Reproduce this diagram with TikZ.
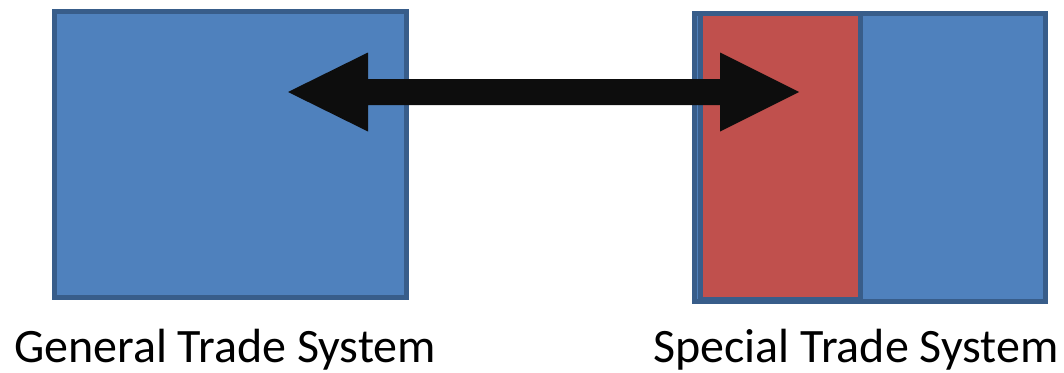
\documentclass[tikz,border=0pt]{standalone}
\usepackage{fontspec}
\setmainfont{Carlito}
\definecolor{boxblue}{HTML}{4F81BD}
\definecolor{boxedge}{HTML}{385D8A}
\definecolor{boxred}{HTML}{C0504D}
\definecolor{arrowblack}{HTML}{0D0D0D}
\begin{document}
\begin{tikzpicture}[x=1pt,y=-1pt,
  panel/.style={draw=boxedge, line width=5pt, fill=boxblue},
  redpanel/.style={draw=boxedge, line width=5pt, fill=boxred},
  label/.style={font=\fontsize{48}{52}\selectfont, inner sep=0pt, anchor=base}]
\useasboundingbox (0,0) rectangle (1064,372);
\draw[panel] (54,11) rectangle (406,297);
\draw[panel] (694.5,13.5) rectangle (1045.5,301.5);
\draw[redpanel] (700,13.5) rectangle (860,299);
\coordinate (lt) at (288,92);
\coordinate (rt) at (799,92);
\fill[arrowblack] (lt) -- (368,52.5) -- (368,79) -- (720,79) -- (720,52.5) -- (rt)
  -- (720,131.5) -- (720,105) -- (368,105) -- (368,131.5) -- cycle;
\node[label] (gts) at (225,362) {General Trade System};
\node[label] (sts) at (856,362) {Special Trade System};
\end{tikzpicture}
\end{document}
